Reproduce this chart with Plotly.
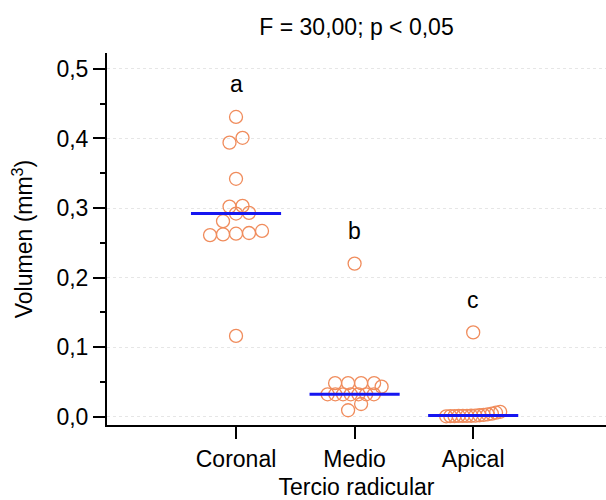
import numpy as np
import plotly.graph_objects as go

# ---------------- data ----------------
categories = ["Coronal", "Medio", "Apical"]
coronal = [0.431, 0.401, 0.394, 0.342, 0.302, 0.303, 0.292, 0.293, 0.281,
           0.261, 0.262, 0.263, 0.264, 0.267, 0.116]
medio = [0.220, 0.048, 0.048, 0.048, 0.048, 0.043, 0.032, 0.032, 0.032,
         0.032, 0.032, 0.032, 0.032, 0.018, 0.009]
apical = [0.121, 0.0003, 0.0005, 0.0006, 0.0008, 0.0009, 0.0010, 0.0011,
          0.0013, 0.0018, 0.0024, 0.0032, 0.0042, 0.0055, 0.0068]
group_letters = ["a", "b", "c"]
title_text = "F = 30,00; p < 0,05"
x_title = "Tercio radicular"
y_title = "Volumen (mm<sup>3</sup>)"
y_ticks = [0.0, 0.1, 0.2, 0.3, 0.4, 0.5]

groups = [coronal, medio, apical]

# ---------------- layout geometry ----------------
W, H = 606, 500
ML, MR, MT, MB = 107, 0, 53, 75
x_range = [-1.088, 3.12]
y_range = [-0.0122, 0.523]
px_per_x = (W - ML - MR) / (x_range[1] - x_range[0])
px_per_y = (H - MT - MB) / (y_range[1] - y_range[0])

MARKER_D = 13      # marker diameter (px)
STEP = 13          # horizontal spacing between neighbours in a row (px)
MAX_HALF = 27      # max half-width of a row (px)
ROW_TOL = 0.65     # rows group values within this fraction of a diameter


def swarm_offsets(values):
    vals = np.asarray(values, dtype=float)
    order = np.argsort(vals, kind="stable")
    rows, current, start = [], [], None
    for idx in order:
        v = vals[idx] * px_per_y
        if current and v - start <= ROW_TOL * MARKER_D:
            current.append(idx)
        else:
            if current:
                rows.append(current)
            current, start = [idx], v
    rows.append(current)
    offs = np.zeros(len(vals))
    for row in rows:
        n = len(row)
        if n == 1:
            continue
        step = min(STEP, 2 * MAX_HALF / (n - 1))
        for k, idx in enumerate(row):
            offs[idx] = (k - (n - 1) / 2) * step
    return offs / px_per_x


FONT = "Liberation Sans, Arial, Helvetica, sans-serif"
FS = 23
ORANGE = "#F08C5C"
BLUE = "#1616F0"

fig = go.Figure()
for i, vals in enumerate(groups):
    offs = swarm_offsets(vals)
    fig.add_trace(go.Scatter(
        x=i + offs, y=vals, mode="markers",
        marker=dict(symbol="circle-open", size=MARKER_D, color=ORANGE,
                    line=dict(width=1.3, color=ORANGE)),
        showlegend=False, hoverinfo="y"))
    med = float(np.median(vals))
    fig.add_trace(go.Scatter(
        x=[i - 0.38, i + 0.38], y=[med, med], mode="lines",
        line=dict(color=BLUE, width=3), showlegend=False, hoverinfo="skip"))
    fig.add_annotation(x=i, y=max(vals) + 0.047, text=group_letters[i],
                       showarrow=False, xref="x", yref="y",
                       font=dict(size=FS, color="black", family=FONT),
                       yanchor="middle")

fig.update_layout(
    width=W, height=H,
    margin=dict(l=ML, r=MR, t=MT, b=MB, autoexpand=False),
    paper_bgcolor="white", plot_bgcolor="white",
    separators=",.",
    font=dict(family=FONT, size=FS, color="black"),
    title=dict(text=title_text, x=0.5, xref="paper", xanchor="center",
               y=1 - 27 / H, yref="container", yanchor="middle",
               font=dict(size=FS, family=FONT, color="black")),
)
fig.update_xaxes(
    range=x_range, tickmode="array", tickvals=list(range(len(categories))),
    ticktext=categories, showline=True, linecolor="black", linewidth=2,
    ticks="outside", ticklen=12, tickwidth=1.5, tickcolor="black",
    showgrid=False, zeroline=False,
    tickfont=dict(size=FS, family=FONT, color="black"),
    title=dict(text=x_title, font=dict(size=FS, family=FONT, color="black"),
               standoff=15),
)
fig.update_yaxes(
    range=y_range, tickmode="array", tickvals=y_ticks, tickformat=".1f",
    showline=True, linecolor="black", linewidth=2,
    ticks="outside", ticklen=12, tickwidth=1.5, tickcolor="black",
    minor=dict(dtick=0.05, ticks="outside", ticklen=5, tickwidth=1.5,
               tickcolor="black", showgrid=False),
    showgrid=True, gridcolor="#e6e6e6", griddash="dot", gridwidth=1,
    zeroline=False,
    tickfont=dict(size=FS, family=FONT, color="black"),
    title=dict(text=y_title, font=dict(size=FS, family=FONT, color="black"),
               standoff=17),
)

fig.write_html(
    "out.html",
    config={"displayModeBar": False},
    post_script="document.body.style.margin='0';document.body.style.padding='0';",
)
